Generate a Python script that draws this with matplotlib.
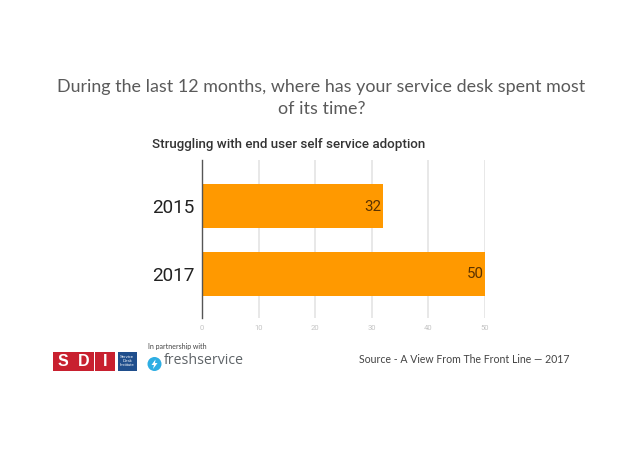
import matplotlib
matplotlib.use("Agg")
import matplotlib.pyplot as plt
from matplotlib.patches import Rectangle, Ellipse, Polygon

categories = ["2015", "2017"]
values = [32, 50]
x_ticks = [0, 10, 20, 30, 40, 50]
title = "During the last 12 months, where has your service desk spent most\nof its time?"
subtitle = "Struggling with end user self service adoption"
source = "Source - A View From The Front Line \u2014 2017"

W, H = 638, 451
plt.rcParams["font.family"] = ["Lato", "DejaVu Sans"]
fig = plt.figure(figsize=(W / 100, H / 100), dpi=100, facecolor="white")

def fx(p): return p / W
def fy(p): return 1 - p / H

# plot area
L, R, T, B = 202.0, 485.0, 160.0, 318.0
ax = fig.add_axes([fx(L), fy(B), (R - L) / W, (B - T) / H])
positions = list(range(len(categories)))
ax.barh(positions, values, height=0.65, color="#FF9900", zorder=3)
ax.set_xlim(0, 50)
ax.set_ylim(1.655, -0.686)
ax.set_xticks(x_ticks)
ax.set_yticks(positions)
ax.set_yticklabels(categories, fontfamily="Roboto", fontsize=13.6, color="#222222")
ax.tick_params(axis="y", length=0, pad=5.5)
ax.tick_params(axis="x", length=0, pad=5, labelsize=5.5, labelcolor="#c4c4c4")
ax.grid(axis="x", color="#e2e2e2", linewidth=1.1, zorder=0)
ax.set_axisbelow(True)
for s in ("top", "right", "bottom"):
    ax.spines[s].set_visible(False)
ax.spines["left"].set_color("#555555")
ax.spines["left"].set_linewidth(1.0)
ax.spines["left"].set_zorder(5)
for p, v in zip(positions, values):
    ax.annotate(str(v), (v, p), xytext=(-1, -0.5), textcoords="offset points",
                ha="right", va="center", fontfamily="Roboto", fontsize=10.8,
                color="#5a3200", zorder=6)
for t in ax.get_xticklabels():
    t.set_fontfamily("Roboto")

# headings
fig.text(fx(321.5), fy(98), title, ha="center", va="center", fontsize=12.9,
         color="#5a5a5a", linespacing=1.5, fontfamily="Lato")
fig.text(fx(152.5), fy(144.5), subtitle, ha="left", va="center", fontsize=9.65,
         fontfamily="Roboto", fontweight="medium", color="#333333")
fig.text(fx(569.5), fy(359.5), source, ha="right", va="center", fontsize=7.6,
         color="#444444", fontfamily="Lato")

# SDI logo
def rect(x0, y0, x1, y1, c):
    fig.add_artist(Rectangle((fx(x0), fy(y1)), (x1 - x0) / W, (y1 - y0) / H,
                             transform=fig.transFigure, facecolor=c, edgecolor="none"))

for (x0, x1), letter in zip([(52.7, 73.5), (73.9, 94.2), (94.6, 115)], "SDI"):
    rect(x0, 351.7, x1, 370.5, "#c8202f")
    fig.text(fx((x0 + x1) / 2), fy(361.3), letter, ha="center", va="center",
             color="white", fontsize=11.5, fontweight="bold", fontfamily="Liberation Sans")
rect(117.7, 351.7, 136.5, 370.5, "#1f4e8c")
fig.text(fx(127), fy(361), "Service\nDesk\nInstitute", ha="center", va="center",
         color="white", fontsize=3.1, linespacing=1.0, fontfamily="Liberation Sans")

# partner logo
fig.text(fx(147.5), fy(346.5), "In partnership with", ha="left", va="center",
         fontsize=5.0, color="#444444", fontfamily="Lato")
fig.add_artist(Ellipse((fx(154.5), fy(364)), 14 / W, 14 / H, transform=fig.transFigure,
                       facecolor="#2eaee3", edgecolor="none"))
fig.add_artist(Polygon([(fx(155.5), fy(359.5)), (fx(151.5), fy(365)), (fx(154), fy(365)),
                        (fx(153), fy(369)), (fx(157.5), fy(363)), (fx(155), fy(363))],
                       closed=True, transform=fig.transFigure, facecolor="white", edgecolor="none"))
fig.text(fx(163.5), fy(360.5), "freshservice", ha="left", va="center", fontsize=10.2,
         color="#5f6468", fontfamily="Open Sans")

fig.savefig("out.png", dpi=100, facecolor="white")
